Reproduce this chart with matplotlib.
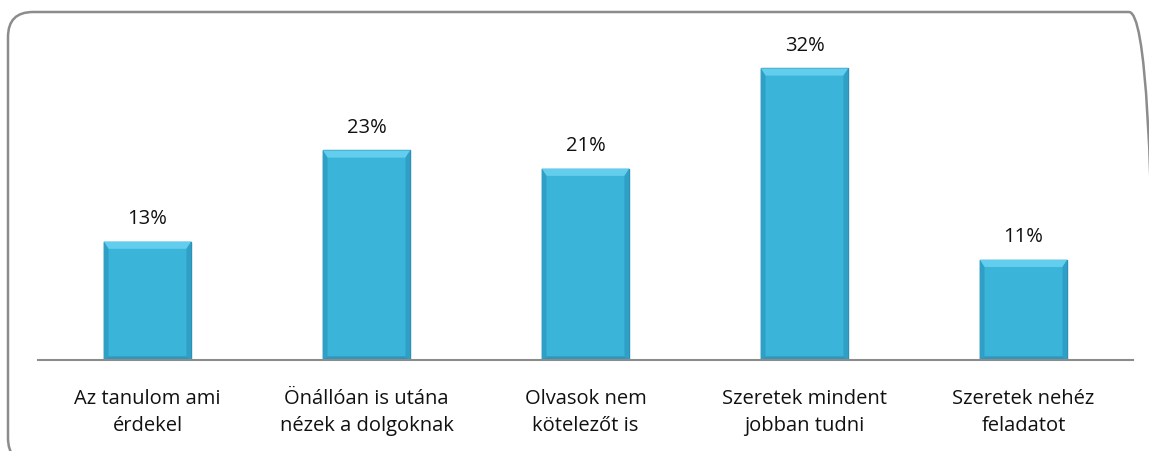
import matplotlib.pyplot as plt
from matplotlib.patches import FancyBboxPatch, Polygon

categories = ['Az tanulom ami\nérdekel',
              'Önállóan is utána\nnézek a dolgoknak',
              'Olvasok nem\nkötelezőt is',
              'Szeretek mindent\njobban tudni',
              'Szeretek nehéz\nfeladatot']
values = [13, 23, 21, 32, 11]

W, H = 1149, 452
fig = plt.figure(figsize=(W / 100, H / 100), dpi=100)
plt.rcParams['font.family'] = ['Open Sans', 'DejaVu Sans']

# rounded outer frame, running off the right and bottom edges
frame = FancyBboxPatch((8 / W, -12 / H), 1146 / W, (H - 13 + 12) / H,
                       boxstyle='round,pad=0,rounding_size={}'.format(25 / W),
                       transform=fig.transFigure, fill=False,
                       edgecolor='#8c8c8c', linewidth=1.8, mutation_aspect=W / H)
fig.patches.append(frame)

ax = fig.add_axes([38 / W, (H - 361) / H, 1095 / W, (361 - 42) / H])
x = range(len(values))
bars = ax.bar(x, values, width=0.4, color='#3ab4d9', edgecolor='#2a8db0', linewidth=1.0, zorder=2)

# bevel: lighter top, darker sides and bottom
dx, dy = 0.022, 0.8
for b in bars:
    x0, w, h = b.get_x(), b.get_width(), b.get_height()
    x1 = x0 + w
    ax.add_patch(Polygon([(x0, h), (x1, h), (x1 - dx, h - dy), (x0 + dx, h - dy)],
                         closed=True, facecolor='#62cdec', linewidth=0, zorder=3))
    ax.add_patch(Polygon([(x0, 0), (x0, h), (x0 + dx, h - dy), (x0 + dx, dy * 0.5)],
                         closed=True, facecolor='#2f9fc6', linewidth=0, zorder=3))
    ax.add_patch(Polygon([(x1, 0), (x1, h), (x1 - dx, h - dy), (x1 - dx, dy * 0.5)],
                         closed=True, facecolor='#2f9fc6', linewidth=0, zorder=3))
    ax.add_patch(Polygon([(x0, 0), (x1, 0), (x1 - dx, dy * 0.5), (x0 + dx, dy * 0.5)],
                         closed=True, facecolor='#2e97bb', linewidth=0, zorder=3))

for i, v in enumerate(values):
    ax.text(i, v + 2.6, '{}%'.format(v), ha='center', va='center', fontsize=14.5, color='#111111')

ax.set_xlim(-0.5, len(values) - 0.5)
ax.set_ylim(0, 35)
ax.set_xticks(list(x))
ax.set_xticklabels(categories, fontsize=14.5, color='#111111', linespacing=1.45)
ax.tick_params(axis='x', length=0, pad=20)
ax.set_yticks([])
for s in ['top', 'right', 'left']:
    ax.spines[s].set_visible(False)
ax.spines['bottom'].set_color('#8c8c8c')
ax.spines['bottom'].set_linewidth(1.5)
ax.spines['bottom'].set_zorder(4)
ax.patch.set_alpha(0)

fig.savefig('out.png', dpi=100)
